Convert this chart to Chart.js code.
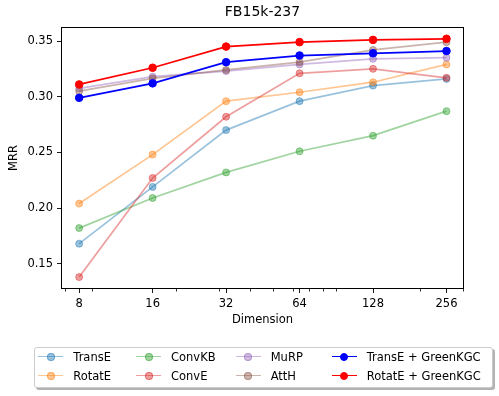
<!DOCTYPE html>
<html>
<head>
<meta charset="utf-8">
<script src="https://cdn.jsdelivr.net/npm/chart.js@4"></script>
<style>
  html, body { margin: 0; padding: 0; background: #fff; }
  #wrap { position: relative; width: 499px; height: 396px; font-family: "DejaVu Sans", sans-serif; }
  #c { position: absolute; left: 0; top: 0; }
  #title { position: absolute; left: 162.5px; top: 4px; width: 200px; text-align: center; font-size: 14px; line-height: 14px; color: #000; }
  #legend { position: absolute; left: 34px; top: 347px; width: 457px; height: 39px; border: 1px solid #cccccc; border-radius: 3px; background: #fff; box-shadow: 2px 2px 0 rgba(0,0,0,0.3); }
  .item { position: absolute; height: 14px; }
  .handle { position: absolute; width: 25px; height: 14px; }
  .handle .ln { position: absolute; left: 0; top: 6px; width: 25px; height: 1.75px; }
  .handle .dot { position: absolute; left: 8.5px; top: 3px; width: 8px; height: 8px; border-radius: 50%; box-sizing: border-box; }
  .txt { position: absolute; font-size: 11.5px; line-height: 14px; white-space: nowrap; color: #000; }
</style>
</head>
<body>
<div id="wrap">
  <canvas id="c" width="499" height="396"></canvas>
  <div id="title">FB15k-237</div>
  <div id="legend"></div>
</div>
<script>
// ---- data ----
const dims = [8, 16, 32, 64, 128, 256];
const xMajorTicks = [8, 16, 32, 64, 128, 256];
const xMinorTicks = [7, 9, 20, 30, 40, 50, 60, 70, 80, 90, 200, 300];
const yTicks = [0.15, 0.20, 0.25, 0.30, 0.35];

const seriesNames = ["TransE", "RotatE", "ConvKB", "ConvE", "MuRP", "AttH", "TransE + GreenKGC", "RotatE + GreenKGC"];
const transE   = [0.168, 0.219, 0.270, 0.296, 0.310, 0.316];
const rotatE   = [0.204, 0.248, 0.296, 0.304, 0.313, 0.329];
const convKB   = [0.182, 0.209, 0.232, 0.251, 0.265, 0.287];
const convE    = [0.138, 0.227, 0.282, 0.321, 0.325, 0.317];
const muRP     = [0.3075, 0.318, 0.323, 0.329, 0.334, 0.335];
const attH     = [0.305, 0.3165, 0.324, 0.331, 0.342, 0.349];
const transEG  = [0.299, 0.312, 0.331, 0.337, 0.339, 0.341];
const rotatEG  = [0.311, 0.326, 0.345, 0.349, 0.351, 0.352];

const seriesValues = [transE, rotatE, convKB, convE, muRP, attH, transEG, rotatEG];
const seriesColors = [
  "rgba(31,119,180,0.45)", "rgba(255,127,14,0.45)", "rgba(44,160,44,0.45)", "rgba(214,39,40,0.45)",
  "rgba(148,103,189,0.45)", "rgba(140,86,75,0.45)", "rgba(0,0,255,1)", "rgba(255,0,0,1)"
];

const FONT = "DejaVu Sans";

const datasets = seriesNames.map((name, i) => ({
  label: name,
  data: dims.map((d, j) => ({ x: d, y: seriesValues[i][j] })),
  borderColor: seriesColors[i],
  backgroundColor: seriesColors[i],
  pointBackgroundColor: seriesColors[i],
  pointBorderColor: seriesColors[i],
  borderWidth: 1.75,
  pointRadius: i >= 6 ? 3.8 : 3.5,
  pointBorderWidth: 1,
  pointHoverRadius: 4,
  tension: 0,
  fill: false,
  order: seriesNames.length - i
}));

const framePlugin = {
  id: 'frame',
  afterDraw(chart) {
    const { ctx, chartArea: a, scales } = chart;
    ctx.save();
    ctx.strokeStyle = '#000';
    ctx.lineWidth = 1;
    ctx.strokeRect(Math.round(a.left) + 0.5, Math.round(a.top) + 0.5, Math.round(a.right - a.left) - 1, Math.round(a.bottom - a.top) - 1);
    // minor ticks on x
    const xs = scales.x;
    ctx.beginPath();
    xMinorTicks.forEach(v => {
      const px = Math.round(xs.getPixelForValue(v)) + 0.5;
      if (px < a.left - 1 || px > a.right + 1) return;
      ctx.moveTo(px, Math.round(a.bottom));
      ctx.lineTo(px, Math.round(a.bottom) + 2.5);
    });
    ctx.lineWidth = 0.8;
    ctx.stroke();
    ctx.restore();
  }
};

const chart = new Chart(document.getElementById('c'), {
  type: 'line',
  data: { datasets },
  options: {
    responsive: false,
    devicePixelRatio: 1,
    animation: false,
    events: [],
    layout: { padding: { left: 0, right: 35, top: 27, bottom: 396 - 289 - 38 } },
    plugins: {
      legend: { display: false },
      title: { display: false },
      tooltip: { enabled: false }
    },
    scales: {
      x: {
        type: 'logarithmic',
        min: 6.74,
        max: 302,
        afterBuildTicks: s => { s.ticks = xMajorTicks.map(v => ({ value: v })); },
        afterFit: s => { s.height = 38; },
        ticks: {
          autoSkip: false, maxRotation: 0, minRotation: 0,
          padding: 4,
          color: '#000',
          font: { family: FONT, size: 11.5 },
          callback: v => String(v)
        },
        grid: { display: true, drawOnChartArea: false, drawTicks: true, tickLength: 4, tickColor: '#000', tickWidth: 0.9 },
        border: { display: false },
        title: { display: true, text: 'Dimension', color: '#000', font: { family: FONT, size: 11.5 }, padding: { top: 0, bottom: 0 } }
      },
      y: {
        type: 'linear',
        min: 0.1273,
        max: 0.3626,
        afterBuildTicks: s => { s.ticks = yTicks.map(v => ({ value: v })); },
        afterFit: s => { s.width = 61; },
        ticks: {
          padding: 4,
          color: '#000',
          font: { family: FONT, size: 11.5 },
          callback: v => v.toFixed(2)
        },
        grid: { display: true, drawOnChartArea: false, drawTicks: true, tickLength: 4, tickColor: '#000', tickWidth: 0.9 },
        border: { display: false },
        title: { display: true, text: 'MRR', color: '#000', font: { family: FONT, size: 11.5 }, padding: { top: 7, bottom: 0 } }
      }
    }
  },
  plugins: [framePlugin]
});

// ---- HTML legend (column-major, 2 rows x 4 columns) ----
const legendTextLeft = [73.3, 171, 270.7, 366.7];
const legendRowCenter = [356.7, 375.7];
const legend = document.getElementById('legend');
const box = { left: 34, top: 347 };
seriesNames.forEach((name, i) => {
  const col = Math.floor(i / 2), row = i % 2;
  const cy = legendRowCenter[row] - box.top - 1;
  const tx = legendTextLeft[col] - box.left - 1;
  const h = document.createElement('div');
  h.className = 'handle';
  h.style.left = (tx - 35) + 'px';
  h.style.top = (cy - 7) + 'px';
  h.innerHTML = '<div class="ln"></div><div class="dot"></div>';
  h.querySelector('.ln').style.background = seriesColors[i];
  const dot = h.querySelector('.dot');
  dot.style.background = seriesColors[i];
  dot.style.border = '1px solid ' + seriesColors[i];
  legend.appendChild(h);
  const t = document.createElement('div');
  t.className = 'txt';
  t.style.left = tx + 'px';
  t.style.top = (cy - 7) + 'px';
  t.textContent = name;
  legend.appendChild(t);
});
</script>
</body>
</html>
